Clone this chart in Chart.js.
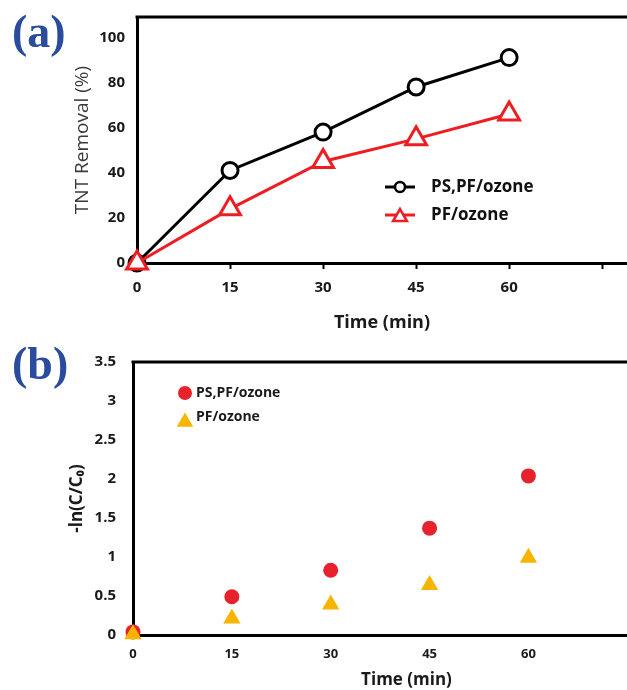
<!DOCTYPE html>
<html><head><meta charset="utf-8">
<script src="https://cdn.jsdelivr.net/npm/chart.js"></script>
<style>
html,body{margin:0;padding:0;background:#fff;width:627px;height:690px;overflow:hidden;}
.panel{position:absolute;left:0;overflow:hidden;width:627px;}
#pa{top:0;height:340px;}
#pb{top:340px;height:350px;}
.tag{position:absolute;left:12px;font:bold 46px "Liberation Serif","Times New Roman",serif;color:#2b4c9c;line-height:1;}
</style></head><body>
<div class="panel" id="pa"><canvas id="ca" width="627" height="340"></canvas></div>
<div class="panel" id="pb"><canvas id="cb" width="680" height="350"></canvas></div>
<div class="tag" style="top:9px">(a)</div>
<div class="tag" style="top:341px">(b)</div>
<script>
// ---- data ----
const seriesNames = ['PS,PF/ozone', 'PF/ozone'];

const timeA = [0, 15, 30, 45, 60];
const removalPSPF = [0, 41, 58, 78, 91];
const removalPF = [0, 24, 45, 55, 66];
const xTicksA = [0, 15, 30, 45, 60, 75];
const xTickLabelsA = ['0', '15', '30', '45', '60', ''];
const yTicksA = [0, 20, 40, 60, 80, 100];
const yTickLabelsA = ['0', '20', '40', '60', '80', '100'];

const timeB = [0, 15, 30, 45, 60];
const lnPSPF = [0.04, 0.49, 0.83, 1.37, 2.04];
const lnPF = [0.01, 0.21, 0.39, 0.64, 0.99];
const xTicksB = [0, 15, 30, 45, 60];
const xTickLabelsB = ['0', '15', '30', '45', '60'];
const yTicksB = [0, 0.5, 1, 1.5, 2, 2.5, 3, 3.5];
const yTickLabelsB = ['0', '0.5', '1', '1.5', '2', '2.5', '3', '3.5'];

const FONT = "'Open Sans', 'DejaVu Sans', sans-serif";

function pts(xs, ys) { return xs.map((x, i) => ({x: x, y: ys[i]})); }
function noPad(s) { s.paddingLeft = 0; s.paddingRight = 0; s.paddingTop = 0; s.paddingBottom = 0; }

function marker(ctx, style, r, bw, x, y) {
  if (window.Chart && Chart.helpers && Chart.helpers.drawPoint) {
    Chart.helpers.drawPoint(ctx, {pointStyle: style, radius: r, borderWidth: bw, rotation: 0}, x, y);
    return;
  }
  ctx.beginPath();
  if (style === 'triangle') {
    for (let k = 0; k < 3; k++) {
      const a = k * 2 * Math.PI / 3;
      const px = x + Math.sin(a) * r, py = y - Math.cos(a) * r;
      k ? ctx.lineTo(px, py) : ctx.moveTo(px, py);
    }
    ctx.closePath();
  } else {
    ctx.arc(x, y, r, 0, Math.PI * 2);
  }
  ctx.fill();
  if (bw > 0) ctx.stroke();
}

const inlineLegend = {
  id: 'inlineLegend',
  afterDatasetsDraw(chart, args, o) {
    const ctx = chart.ctx;
    ctx.save();
    chart.data.datasets.forEach((ds, i) => {
      const cy = o.y + i * o.gap;
      if (o.line) {
        ctx.strokeStyle = ds.borderColor;
        ctx.lineWidth = o.lineWidth;
        ctx.beginPath();
        ctx.moveTo(o.x - o.lineLen / 2, cy);
        ctx.lineTo(o.x + o.lineLen / 2, cy);
        ctx.stroke();
      }
      ctx.fillStyle = ds.pointBackgroundColor;
      ctx.strokeStyle = ds.pointBorderColor || ds.pointBackgroundColor;
      ctx.lineWidth = o.pointBorderWidth;
      marker(ctx, ds.pointStyle, ds.legendRadius, o.pointBorderWidth, o.x, cy + (ds.legendDy || 0));
      ctx.fillStyle = o.color;
      ctx.font = o.font;
      ctx.textAlign = 'left';
      ctx.textBaseline = 'middle';
      ctx.fillText(ds.label, o.textX, cy + (ds.legendTextDy || 0));
    });
    ctx.restore();
  }
};

const frameTop = {
  id: 'frameTop',
  beforeDatasetsDraw(chart) {
    const ctx = chart.ctx, a = chart.chartArea;
    ctx.save();
    ctx.strokeStyle = '#000';
    ctx.lineWidth = 3;
    ctx.beginPath();
    ctx.moveTo(a.left - 1.5, a.top);
    ctx.lineTo(chart.width, a.top);
    ctx.stroke();
    ctx.restore();
  }
};

// ---- panel (a) ----
new Chart(document.getElementById('ca'), {
  type: 'line',
  data: {
    datasets: [
      {
        label: seriesNames[0], data: pts(timeA, removalPSPF),
        borderColor: '#000', backgroundColor: '#fff',
        pointBackgroundColor: '#fff', pointBorderColor: '#000',
        pointStyle: 'circle', pointRadius: 8, pointBorderWidth: 3,
        borderWidth: 3, tension: 0, clip: false, order: 1, legendRadius: 5
      },
      {
        label: seriesNames[1], data: pts(timeA, removalPF),
        borderColor: '#ee1d23', backgroundColor: '#fff',
        pointBackgroundColor: '#fff', pointBorderColor: '#ee1d23',
        pointStyle: 'triangle', pointRadius: 12, pointBorderWidth: 3,
        borderWidth: 3, tension: 0, clip: false, order: 0, legendRadius: 8, legendDy: 2
      }
    ]
  },
  options: {
    responsive: false, animation: false, devicePixelRatio: 1,
    layout: {autoPadding: false, padding: {top: 17, left: 0, right: 0, bottom: 0}},
    plugins: {
      legend: {display: false}, tooltip: {enabled: false},
      inlineLegend: {x: 400, y: 187, gap: 28, line: true, lineLen: 30, lineWidth: 3,
        pointBorderWidth: 2.5, textX: 431, color: '#111', font: 'bold 17px ' + FONT}
    },
    scales: {
      x: {
        type: 'linear', min: 0, max: 79,
        afterBuildTicks: s => { s.ticks = xTicksA.map(v => ({value: v})); },
        afterFit: s => { s.height = 77; noPad(s); },
        grid: {display: true, drawOnChartArea: false, drawTicks: true, tickLength: 6,
          tickColor: '#000', tickWidth: 2, color: '#000'},
        border: {display: true, color: '#000', width: 3},
        ticks: {callback: (v, i) => xTickLabelsA[i], autoSkip: false, maxRotation: 0,
          font: {family: FONT, weight: 'bold', size: 15}, color: '#1a1a1a', padding: 10},
        title: {display: true, text: 'Time (min)', color: '#1a1a1a',
          font: {family: FONT, weight: 'bold', size: 18}, padding: {top: 0, bottom: 6}}
      },
      y: {
        type: 'linear', min: 0, max: 109,
        afterBuildTicks: s => { s.ticks = yTicksA.map(v => ({value: v})); },
        afterFit: s => { s.width = 137; noPad(s); },
        grid: {display: false, drawTicks: false},
        border: {display: true, color: '#000', width: 3},
        ticks: {callback: (v, i) => yTickLabelsA[i], autoSkip: false,
          font: {family: FONT, weight: 'bold', size: 15}, color: '#1a1a1a', padding: 12},
        title: {display: true, text: 'TNT Removal (%)', color: '#3a3a3a',
          font: {family: FONT, weight: 'normal', size: 19}, padding: {top: 71, bottom: 0}}
      }
    }
  },
  plugins: [inlineLegend, frameTop]
});

// ---- panel (b) ----
new Chart(document.getElementById('cb'), {
  type: 'scatter',
  data: {
    datasets: [
      {
        label: seriesNames[0], data: pts(timeB, lnPSPF),
        backgroundColor: '#e8222c', pointBackgroundColor: '#e8222c',
        pointStyle: 'circle', pointRadius: 7.5, pointBorderWidth: 0,
        clip: false, order: 1, legendRadius: 7
      },
      {
        label: seriesNames[1], data: pts(timeB, lnPF),
        backgroundColor: '#f7b500', pointBackgroundColor: '#f7b500',
        pointStyle: 'triangle', pointRadius: 10, pointBorderWidth: 0,
        clip: false, order: 0, legendRadius: 9.5, legendDy: 2, legendTextDy: -3
      }
    ]
  },
  options: {
    responsive: false, animation: false, devicePixelRatio: 1,
    layout: {autoPadding: false, padding: {top: 22, left: 0, right: 0, bottom: 0}},
    plugins: {
      legend: {display: false}, tooltip: {enabled: false},
      inlineLegend: {x: 185, y: 53, gap: 27, line: false, pointBorderWidth: 0,
        textX: 196, color: '#1a1a1a', font: 'bold 14px ' + FONT}
    },
    scales: {
      x: {
        type: 'linear', min: 0, max: 83,
        afterBuildTicks: s => { s.ticks = xTicksB.map(v => ({value: v})); },
        afterFit: s => { s.height = 55; noPad(s); },
        grid: {display: false, drawTicks: false},
        border: {display: true, color: '#000', width: 3},
        ticks: {callback: (v, i) => xTickLabelsB[i], autoSkip: false, maxRotation: 0,
          font: {family: FONT, weight: 'bold', size: 13}, color: '#1a1a1a', padding: 11},
        title: {display: true, text: 'Time (min)', color: '#1a1a1a',
          font: {family: FONT, weight: 'bold', size: 17}, padding: {top: 0, bottom: 0}}
      },
      y: {
        type: 'linear', min: 0, max: 3.5,
        afterBuildTicks: s => { s.ticks = yTicksB.map(v => ({value: v})); },
        afterFit: s => { s.width = 133; noPad(s); },
        grid: {display: false, drawTicks: false},
        border: {display: true, color: '#000', width: 3},
        ticks: {callback: (v, i) => yTickLabelsB[i], autoSkip: false,
          font: {family: FONT, weight: 'bold', size: 15}, color: '#1a1a1a', padding: 17},
        title: {display: true, text: '-ln(C/C\u2080)', color: '#1a1a1a',
          font: {family: FONT, weight: 'bold', size: 17}, padding: {top: 67, bottom: 0}}
      }
    }
  },
  plugins: [inlineLegend, frameTop]
});
</script>
</body></html>
